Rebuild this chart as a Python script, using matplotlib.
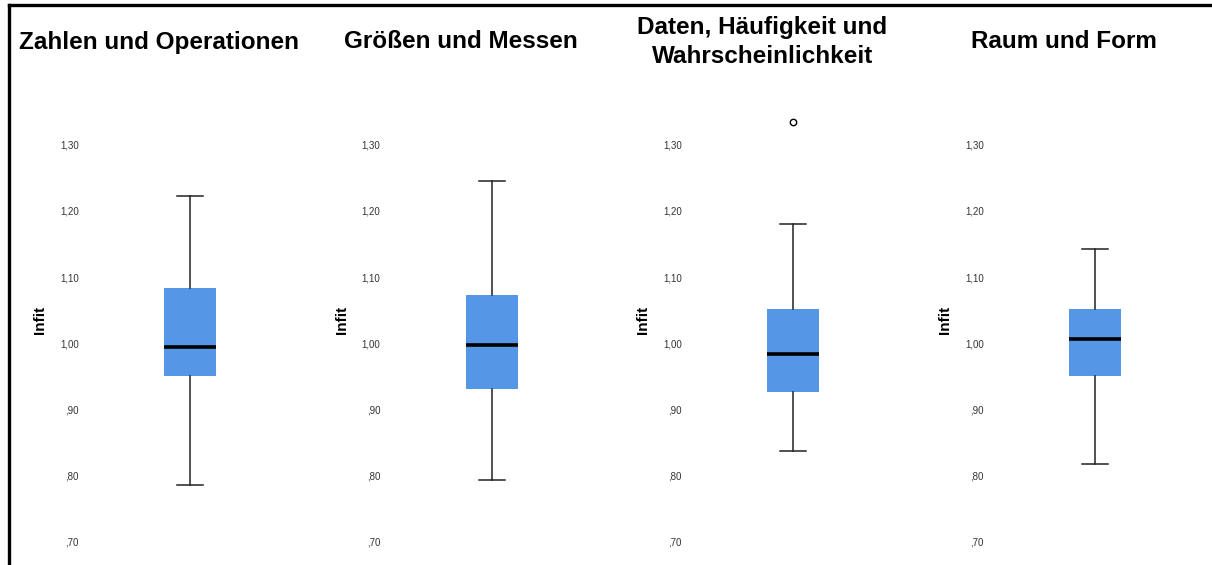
import matplotlib.pyplot as plt
from matplotlib.lines import Line2D

# Infit summary statistics per content domain (SPSS-style boxplots)
domains = ["Zahlen und Operationen", "Größen und Messen",
           "Daten, Häufigkeit und\nWahrscheinlichkeit", "Raum und Form"]
whisker_low = [0.786, 0.794, 0.837, 0.817]
quartile_1 = [0.950, 0.931, 0.927, 0.950]
medians = [0.995, 0.998, 0.984, 1.007]
quartile_3 = [1.084, 1.073, 1.051, 1.052]
whisker_high = [1.222, 1.245, 1.180, 1.143]
outliers = [[], [], [1.334], []]

yticks = [0.70, 0.80, 0.90, 1.00, 1.10, 1.20, 1.30]


def spss_label(v):
    # SPSS drops the leading zero and uses a decimal comma
    s = f"{v:.2f}".replace(".", ",")
    return s[1:] if s.startswith("0") else s


plt.rcParams['font.family'] = ['Liberation Sans', 'DejaVu Sans']

W, H = 1212, 565
fig = plt.figure(figsize=(W / 100, H / 100), dpi=100)
fig.patch.set_facecolor('white')

BOX_COLOR = '#5596e6'
step = 301.7

for i, name in enumerate(domains):
    left = 80 + step * i
    ax = fig.add_axes([left / W, 0.0, 220 / W, (565.4 - 98.7) / H])
    stats = [dict(whislo=whisker_low[i], q1=quartile_1[i], med=medians[i],
                  q3=quartile_3[i], whishi=whisker_high[i], fliers=outliers[i])]
    ax.bxp(stats, positions=[0.5], widths=0.236, patch_artist=True,
           boxprops=dict(facecolor=BOX_COLOR, edgecolor=BOX_COLOR, linewidth=0),
           medianprops=dict(color='black', linewidth=2.6),
           whiskerprops=dict(color='#222222', linewidth=1.1),
           capprops=dict(color='#222222', linewidth=1.1),
           capwidths=0.118,
           flierprops=dict(marker='o', markersize=4.6, markerfacecolor='none',
                           markeredgecolor='black', markeredgewidth=1.0))
    ax.set_xlim(0, 1)
    ax.set_ylim(0.665, 1.37)
    ax.set_xticks([])
    ax.set_yticks(yticks)
    ax.set_yticklabels([spss_label(v) for v in yticks], fontsize=7, color='#333333')
    ax.tick_params(axis='y', length=0, pad=1)
    for sp in ax.spines.values():
        sp.set_visible(False)
    ax.set_facecolor('none')
    # axis title sits a bit above the middle, as SPSS places it
    ax.text(-0.182, 0.525, 'Infit', transform=ax.transAxes, rotation=90,
            ha='center', va='center', fontsize=11, fontweight='bold')

    fig.text((159 + step * i) / W, 1 - 42 / H, name, ha='center', va='center',
             fontsize=17.5, fontweight='bold', linespacing=1.3)

# frame lines along the top and left edge
fig.add_artist(Line2D([9 / W, 1.0], [1 - 5 / H, 1 - 5 / H], color='black',
                      linewidth=2.4, transform=fig.transFigure))
fig.add_artist(Line2D([9 / W, 9 / W], [0.0, 1 - 5 / H], color='black',
                      linewidth=2.4, transform=fig.transFigure))

fig.savefig('out.png', dpi=100, facecolor='white')
